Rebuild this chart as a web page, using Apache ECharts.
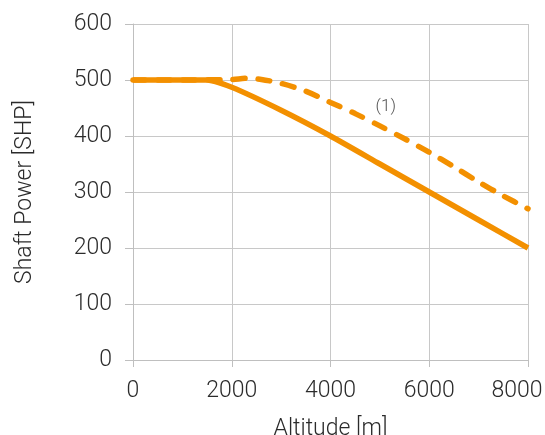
<!DOCTYPE html>
<html><head><meta charset="utf-8">
<script src="https://cdn.jsdelivr.net/npm/echarts@6/dist/echarts.min.js"></script>
<style>html,body{margin:0;padding:0;background:#fff}#c{width:545px;height:435px}</style>
</head><body><div id="c"></div>
<script>
const altSolid = [0, 1000, 1500, 2000, 3000, 4000, 5000, 6000, 7000, 8000];
const powSolid = [500, 500, 500, 487, 446, 400, 350, 300, 250, 200];
const altDash = [0, 1000, 2000, 2300, 2600, 3000, 3500, 4000, 4500, 5000, 5500, 6000, 6500, 7000, 7500, 8000];
const powDash = [500, 500, 501, 503, 501, 494, 480, 460, 440, 418, 395, 371, 345, 318, 293, 270];
const note = { text: '(1)', alt: 5120, power: 453 };
const xTicks = { min: 0, max: 8000, interval: 2000 };
const yTicks = { min: 0, max: 600, interval: 100 };

const orange = '#F39000';
const font = 'Roboto';
const txt = '#2b2b2b';
const el = document.getElementById('c');
const chart = echarts.init(el, null, { renderer: 'canvas' });
chart.setOption({
  animation: false,
  backgroundColor: '#fff',
  grid: { left: 133, right: 17, top: 24, bottom: 75, containLabel: false, outerBoundsMode: 'none' },
  xAxis: {
    type: 'value', min: xTicks.min, max: xTicks.max, interval: xTicks.interval,
    name: 'Altitude [m]', nameLocation: 'middle', nameGap: 58,
    nameTextStyle: { fontFamily: font, fontWeight: 300, fontSize: 23, color: txt },
    axisLine: { show: true, lineStyle: { color: '#bfbfbf', width: 1 } },
    axisTick: { show: true, inside: false, length: 7, lineStyle: { color: '#bfbfbf' } },
    axisLabel: {
      fontFamily: font, fontWeight: 300, fontSize: 23, color: txt, margin: 20,
      formatter: v => v === xTicks.max ? '{r|' + v + '}' : String(v),
      rich: { r: { fontFamily: font, fontWeight: 300, fontSize: 23, color: txt, padding: [0, 22, 0, 0] } }
    },
    splitLine: { show: true, lineStyle: { color: '#c8c8c8', width: 1 } }
  },
  yAxis: {
    type: 'value', min: yTicks.min, max: yTicks.max, interval: yTicks.interval,
    name: 'Shaft Power [SHP]', nameLocation: 'middle', nameGap: 96,
    nameTextStyle: { fontFamily: font, fontWeight: 300, fontSize: 23, color: txt },
    axisLine: { show: true, lineStyle: { color: '#bfbfbf', width: 1 } },
    axisTick: { show: true, inside: false, length: 8, lineStyle: { color: '#bfbfbf' } },
    axisLabel: { fontFamily: font, fontWeight: 300, fontSize: 23, color: txt, margin: 21 },
    splitLine: { show: true, lineStyle: { color: '#c8c8c8', width: 1 } }
  },
  series: [
    {
      type: 'line', name: 'solid', smooth: 0.2, symbol: 'none',
      data: altSolid.map((a, i) => [a, powSolid[i]]),
      lineStyle: { color: orange, width: 5.5 }
    },
    {
      type: 'line', name: 'dashed', smooth: 0.3, symbol: 'none',
      data: altDash.map((a, i) => [a, powDash[i]]),
      lineStyle: { color: orange, width: 5.5, type: [12, 13], cap: 'round' },
      markPoint: {
        symbol: 'circle', symbolSize: 0,
        data: [{ coord: [note.alt, note.power], value: note.text }],
        label: { show: true, position: 'inside', formatter: note.text, fontFamily: font, fontWeight: 300, fontSize: 17, color: '#555' }
      }
    }
  ]
});
</script></body></html>
